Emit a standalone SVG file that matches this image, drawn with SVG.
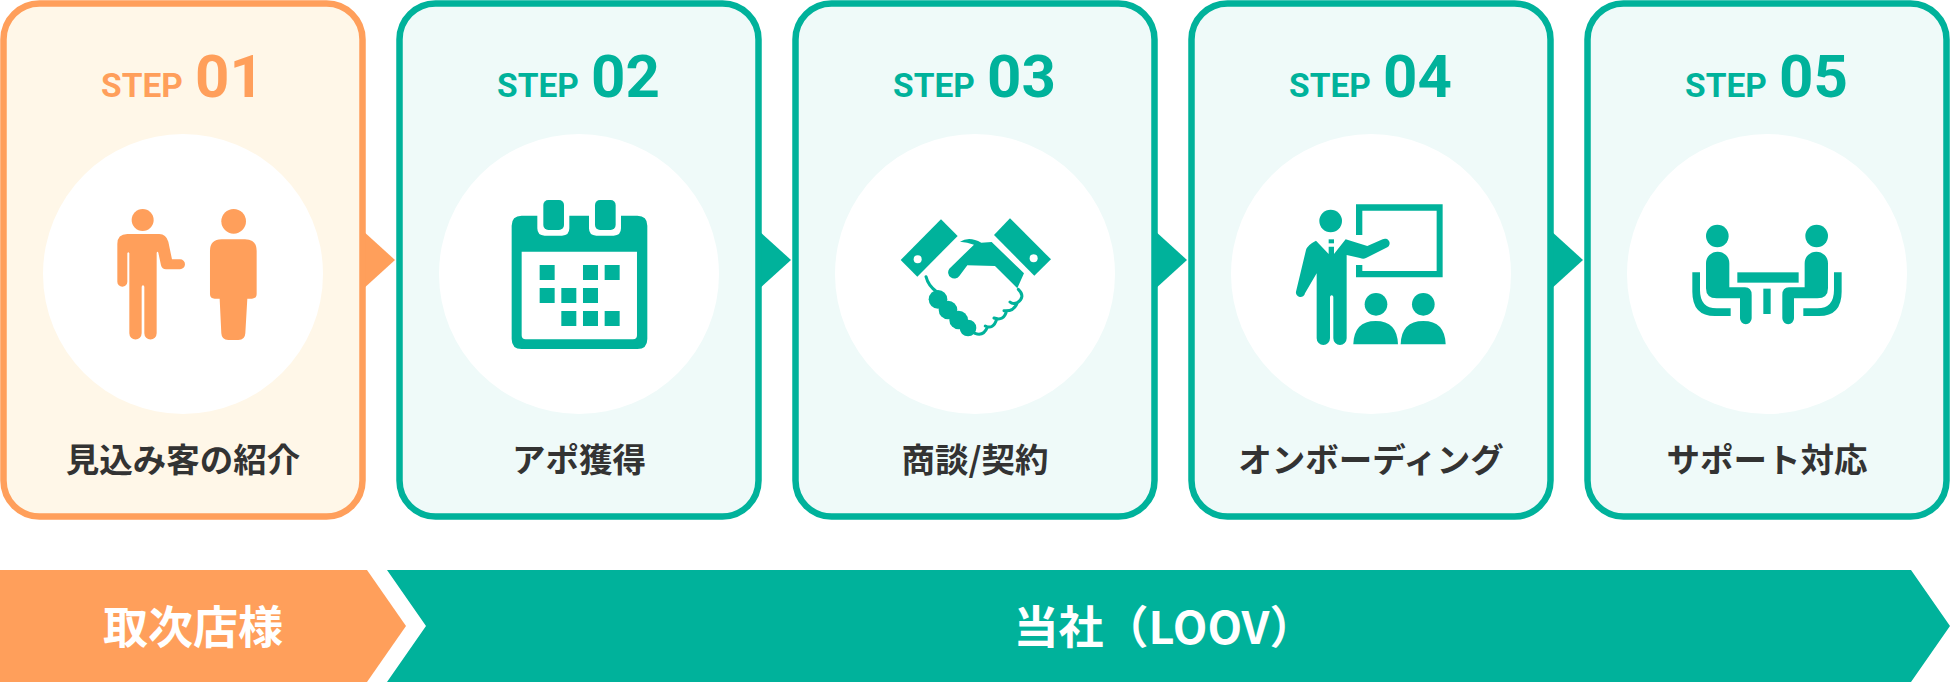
<svg xmlns="http://www.w3.org/2000/svg" xmlns:xlink="http://www.w3.org/1999/xlink" width="1950" height="682" viewBox="0 0 1950 682">
<style>
.card{stroke-width:6.500}
.o .card{fill:#FFF7E8;stroke:#FF9F5B}
.g .card{fill:#EFFAF9;stroke:#00B29B}
.o{fill:#FF9F5B}
.g{fill:#00B29B}
.disc{fill:#fff}
.hole{fill:#fff}
text{font-family:"Roboto","Noto Sans CJK JP","Liberation Sans",sans-serif;font-weight:700}
.step{font-size:33.500px}
.num{font-size:60px}
.label{font-family:"Noto Sans CJK JP","Noto Sans",sans-serif;font-size:33.500px;fill:#333;text-anchor:middle}
.bar{font-family:"Noto Sans CJK JP","Noto Sans",sans-serif;font-size:45px;fill:#fff;text-anchor:middle}
.line{fill:none;stroke:#00B29B;stroke-width:9;stroke-linecap:round;stroke-linejoin:round}
</style>
<defs>
<g id="sitter">
<path d="M108 160A35 35 0 0 1 178 160V232H225Q245 232 245 255V325A17 17 0 0 1 210 325V265H140Q108 265 108 235Z"/>
<path d="M67 187H90V240Q90 295 140 295H182V318H135Q67 318 67 245Z"/>
<circle cx="142" cy="78" r="34"/>
</g>
</defs>
<g id="connectors">
<path class="o" d="M362 230L395 260L362 290Z"/>
<path class="g" d="M758 230L791 260L758 290Z"/>
<path class="g" d="M1154 230L1187 260L1154 290Z"/>
<path class="g" d="M1550 230L1583 260L1550 290Z"/>
</g>
<g id="step1" class="o">
<rect class="card" x="3.500" y="3.500" width="359" height="513" rx="36"/>
<circle class="disc" cx="183" cy="274" r="140"/>
<text class="step" x="101" y="97">STEP</text>
<text class="num" x="195" y="97">01</text>
<text class="label" x="183" y="472">見込み客の紹介</text>
<g transform="translate(90 190) scale(.3333)">
<circle cx="158" cy="90" r="33"/>
<path d="M112 132H208Q228 132 235 155L246 208H270A15 15 0 0 1 270 238H228Q216 238 213 226L205 188Q203 183 200 188V430A18.500 18.500 0 0 1 163 430V290Q159 282 155 290V430A18.500 18.500 0 0 1 118 430V190Q115 183 112 190V275A15 15 0 0 1 82 275V162Q82 132 112 132Z"/>
<circle cx="431" cy="94" r="37"/>
<path d="M395 148H465Q500 148 500 183V312Q500 326 486 326H472L466 430Q465 450 445 450H415Q395 450 394 430L389 326H374Q360 326 360 312V183Q360 148 395 148Z"/>
</g>
</g>
<g id="step2" class="g">
<rect class="card" x="399.500" y="3.500" width="359" height="513" rx="36"/>
<circle class="disc" cx="579" cy="274" r="140"/>
<text class="step" x="497" y="97">STEP</text>
<text class="num" x="591" y="97">02</text>
<text class="label" x="579" y="472">アポ獲得</text>
<g transform="translate(480 180) scale(.3333)">
<rect x="190" y="60" width="62" height="90" rx="15"/>
<rect x="345" y="60" width="62" height="90" rx="15"/>
<path fill-rule="evenodd" d="M125 107H172V145Q172 167 194 167H246Q268 167 268 145V107H327V145Q327 167 349 167H401Q423 167 423 145V107H472Q502 107 502 137V477Q502 507 472 507H125Q95 507 95 477V137Q95 107 125 107ZM125 215V466Q125 478 137 478H459Q471 478 471 466V215Z"/>
<path d="M179 255h45v45h-45zM309 255h45v45h-45zM374 255h45v45h-45zM179 324h45v45h-45zM244 324h45v45h-45zM309 324h45v45h-45zM244 393h45v45h-45zM309 393h45v45h-45zM374 393h45v45h-45z"/>
</g>
</g>
<g id="step3" class="g">
<rect class="card" x="795.500" y="3.500" width="359" height="513" rx="36"/>
<circle class="disc" cx="975" cy="274" r="140"/>
<text class="step" x="893" y="97">STEP</text>
<text class="num" x="987" y="97">03</text>
<text class="label" x="975" y="472">商談/契約</text>
<g transform="translate(880 200) scale(.3333)">
<path d="M183 58L233 108L112 230L62 180Z"/>
<path d="M390 55L513 178L463 227L342 105Z"/>
<circle class="hole" cx="113" cy="178" r="12"/>
<circle class="hole" cx="461" cy="175" r="12"/>
<path d="M240 125Q268 108 304 128L335 126L432 220L412 265L345 198L262 196L238 228A18 18 0 0 1 208 206L282 134Q262 126 240 125Z"/>
<circle cx="174" cy="298" r="28"/>
<circle cx="204" cy="330" r="28"/>
<circle cx="236" cy="360" r="28"/>
<circle cx="264" cy="384" r="25"/>
<path class="line" d="M138 230Q145 258 170 275M415 268Q438 290 412 308Q398 314 390 306M412 308Q402 335 372 332M380 332Q372 365 342 354M350 358Q340 390 316 378M322 382Q310 410 285 400"/>
</g>
</g>
<g id="step4" class="g">
<rect class="card" x="1191.500" y="3.500" width="359" height="513" rx="36"/>
<circle class="disc" cx="1371" cy="274" r="140"/>
<text class="step" x="1289" y="97">STEP</text>
<text class="num" x="1383" y="97">04</text>
<text class="label" x="1371" y="472">オンボーディング</text>
<g transform="translate(1280 190) scale(.3333)">
<path d="M228 43H488V262H228V225H247V243H470V62H247V135H228Z"/>
<circle cx="152" cy="93" r="34"/>
<rect x="146" y="148" width="16" height="12"/>
<path d="M108 152L146 192V170H162V192L197 148L262 168L308 148A13 13 0 0 1 322 172L258 204Q250 208 240 204L200 195V445A20 20 0 0 1 160 445V320Q155 312 150 320V445A20 20 0 0 1 110 445V250L75 310A13 13 0 0 1 48 305L78 180Q82 165 108 152Z"/>
<circle cx="288" cy="343" r="34"/>
<circle cx="430" cy="343" r="34"/>
<path d="M220 463Q222 393 287 393Q352 393 354 463Z"/>
<path d="M362 463Q364 393 430 393Q495 393 497 463Z"/>
</g>
</g>
<g id="step5" class="g">
<rect class="card" x="1587.500" y="3.500" width="359" height="513" rx="36"/>
<circle class="disc" cx="1767" cy="274" r="140"/>
<text class="step" x="1685" y="97">STEP</text>
<text class="num" x="1779" y="97">05</text>
<text class="label" x="1767" y="472">サポート対応</text>
<g transform="translate(1670 210) scale(.3333)">
<use xlink:href="#sitter" href="#sitter"/>
<use xlink:href="#sitter" href="#sitter" transform="translate(582 0) scale(-1 1)"/>
<rect x="202" y="187" width="184" height="31"/>
<rect x="280" y="236" width="22" height="76"/>
</g>
</g>
<g id="partner" class="o">
<path d="M0 570H367L406 626L367 682H0Z"/>
<text class="bar" x="193" y="644">取次店様</text>
</g>
<g id="loov" class="g">
<path d="M387 570H1911L1950 626L1911 682H387L426 626Z"/>
<text class="bar" x="1164" y="644">当社（LOOV）</text>
</g>
</svg>
